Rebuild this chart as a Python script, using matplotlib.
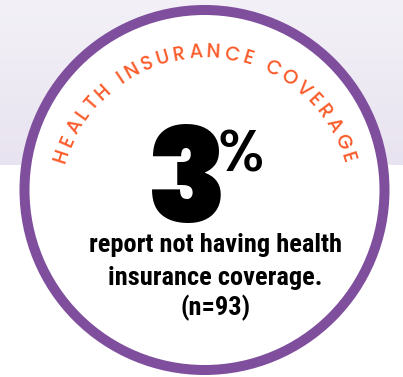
import numpy as np
import matplotlib
matplotlib.use("Agg")
import matplotlib.pyplot as plt
from matplotlib import patches
from matplotlib import font_manager
from matplotlib.textpath import TextToPath
from matplotlib.font_manager import FontProperties

title = "HEALTH INSURANCE COVERAGE"
percent = 3
sample_n = 93
lines = ["report not having health", "insurance coverage.", f"(n={sample_n})"]

purple = "#7f4f9e"
orange = "#fb5b2a"

weights = {}
for f in font_manager.fontManager.ttflist:
    weights.setdefault(f.name, set()).add(f.weight)


def pick(fams, min_w=0):
    for f in fams:
        if f in weights and max(int(w) if str(w).isdigit() else 400 for w in weights[f]) >= min_w:
            return f
    return "DejaVu Sans"


arc_font = pick(["Poppins", "Lato", "DejaVu Sans"])
big_font = pick(["Poppins", "Archivo Black", "Lato"], 900)
body_font = pick(["Roboto Condensed", "Archivo Narrow", "Barlow Semi Condensed"])

fig = plt.figure(figsize=(4.03, 3.77), dpi=100)
ax = fig.add_axes([0, 0, 1, 1])
ax.set_xlim(0, 403)
ax.set_ylim(377, 0)
ax.axis("off")

# lavender band on top
grad = np.linspace(0, 1, 100)[:, None]
cmap = matplotlib.colors.LinearSegmentedColormap.from_list("bg", ["#f3f1f7", "#e8e3f0"])
ax.imshow(grad, cmap=cmap, extent=(0, 403, 165, 0), aspect="auto", zorder=0)

cx, cy = 204.5, 190
ax.add_patch(patches.Circle((cx, cy), 180, facecolor="white", edgecolor=purple, linewidth=7.2, zorder=1))

# curved title, one letter at a time
fs = 14
fp = FontProperties(family=arc_font, size=fs, weight="medium")
t2p = TextToPath()
px = 100 / 72
adv = []
for c in title:
    if c == " ":
        adv.append(0.3 * fs * px)
    else:
        adv.append(t2p.get_text_width_height_descent(c, fp, ismath=False)[0] * px)
adv = np.array(adv)
tcx, tcy, rad = 204.5, 202, 144.5
a0, a1 = np.radians(162), np.radians(17.4)
arc = rad * (a0 - a1)
centers = np.cumsum(adv) - adv / 2
centers -= centers[0]
track = (arc - centers[-1]) / (len(title) - 1)
centers = centers + track * np.arange(len(title))
for c, s in zip(title, centers):
    if c == " ":
        continue
    a = a0 - s / rad
    ax.text(tcx + rad * np.cos(a), tcy - rad * np.sin(a), c, fontproperties=fp, color=orange,
            rotation=np.degrees(a) - 90, rotation_mode="anchor", ha="center", va="baseline", zorder=3)

ax.text(187.5, 222, str(percent), family=big_font, fontweight="black", fontsize=94, color="black",
        ha="center", va="baseline", zorder=3)
ax.text(218, 172, "%", family=arc_font, fontweight="medium", fontsize=42, color="black",
        ha="left", va="baseline", zorder=3)

for txt, y in zip(lines, [252, 285, 315]):
    ax.text(215.5, y, txt, family=body_font, fontweight="bold", fontsize=19, color="black",
            ha="center", va="baseline", zorder=3)

fig.savefig("out.png", dpi=100)
